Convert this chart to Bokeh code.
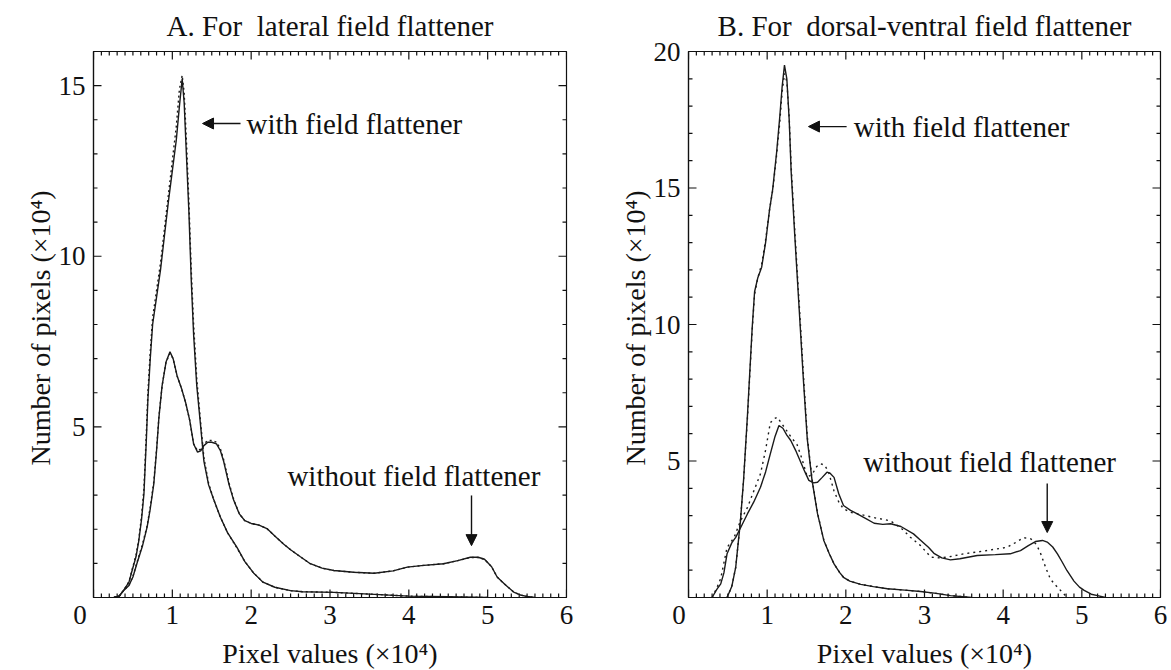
import math
from bokeh.plotting import figure
from bokeh.models import Label, Arrow, NormalHead, Range1d, SingleIntervalTicker
from bokeh.layouts import row
from bokeh.embed import file_html
from bokeh.resources import INLINE

# ---------------- data (x in units of 1e4 pixel value, y in units of 1e4 pixels)
x_ticks = [0, 1, 2, 3, 4, 5, 6]
a_y_ticks = [0, 5, 10, 15]
b_y_ticks = [0, 5, 10, 15, 20]

# Panel A: lateral field flattener
a_with_x = [0.26, 0.33, 0.38, 0.45, 0.49, 0.54, 0.575, 0.61, 0.64, 0.67, 0.69, 0.72,
            0.75, 0.80, 0.85, 0.90, 0.95, 1.00, 1.05, 1.09, 1.125, 1.15, 1.18, 1.21,
            1.24, 1.27, 1.31, 1.36, 1.40, 1.46, 1.52, 1.61, 1.70, 1.82, 1.92, 2.03,
            2.15, 2.30, 2.50, 2.65, 3.05, 3.50, 4.00, 4.50, 5.00]
a_with_y = [0.0, 0.05, 0.2, 0.45, 0.79, 1.2, 1.67, 2.3, 3.04, 4.6, 5.8, 7.0,
            8.0, 8.8, 9.6, 10.6, 11.6, 12.5, 13.4, 14.4, 15.2, 14.5, 12.9, 11.3,
            9.3, 7.7, 6.2, 5.0, 4.0, 3.3, 2.9, 2.35, 1.9, 1.47, 1.05, 0.72,
            0.45, 0.3, 0.2, 0.17, 0.15, 0.1, 0.04, 0.02, 0.0]
a_with_dot_y = [0.0, 0.05, 0.2, 0.47, 0.82, 1.25, 1.72, 2.4, 3.2, 4.8, 6.0, 7.2,
                8.2, 9.0, 9.8, 10.8, 11.8, 12.8, 13.8, 14.9, 15.3, 14.8, 13.3, 11.6,
                9.6, 8.0, 6.4, 5.1, 4.1, 3.35, 2.9, 2.35, 1.9, 1.45, 1.05, 0.72,
                0.45, 0.3, 0.2, 0.17, 0.15, 0.1, 0.04, 0.02, 0.0]

a_without_x = [0.26, 0.33, 0.38, 0.45, 0.50, 0.55, 0.62, 0.68, 0.72, 0.765, 0.80, 0.83,
               0.87, 0.92, 0.97, 1.01, 1.06, 1.12, 1.17, 1.22, 1.27, 1.32, 1.36, 1.40,
               1.45, 1.50, 1.56, 1.61, 1.65, 1.72, 1.78, 1.85, 1.92, 2.00, 2.10, 2.20,
               2.30, 2.41, 2.50, 2.62, 2.75, 2.90, 3.05, 3.30, 3.56, 3.80, 3.98, 4.19,
               4.44, 4.62, 4.78, 4.88, 4.96, 5.05, 5.12, 5.22, 5.33, 5.42, 5.50, 5.60]
a_without_y = [0.0, 0.05, 0.2, 0.35, 0.6, 0.99, 1.5, 2.06, 2.6, 3.33, 4.3, 5.28,
               6.2, 6.9, 7.2, 7.0, 6.5, 6.1, 5.7, 5.2, 4.5, 4.26, 4.3, 4.45,
               4.55, 4.55, 4.5, 4.3, 4.0, 3.3, 2.84, 2.45, 2.25, 2.17, 2.12, 2.02,
               1.8, 1.57, 1.4, 1.2, 0.99, 0.86, 0.79, 0.74, 0.71, 0.78, 0.89, 0.94,
               0.99, 1.08, 1.18, 1.18, 1.12, 0.9, 0.6, 0.38, 0.16, 0.07, 0.03, 0.0]
a_without_dot_y = [0.0, 0.05, 0.2, 0.36, 0.62, 1.02, 1.55, 2.1, 2.65, 3.4, 4.35, 5.3,
                   6.2, 6.9, 7.15, 7.0, 6.5, 6.1, 5.7, 5.2, 4.5, 4.3, 4.35, 4.5,
                   4.6, 4.6, 4.55, 4.35, 4.05, 3.35, 2.86, 2.45, 2.25, 2.17, 2.12, 2.02,
                   1.8, 1.57, 1.4, 1.2, 0.99, 0.86, 0.79, 0.74, 0.71, 0.78, 0.89, 0.94,
                   0.99, 1.08, 1.17, 1.17, 1.12, 0.9, 0.6, 0.38, 0.16, 0.07, 0.03, 0.0]

# Panel B: dorsal-ventral field flattener
b_with_x = [0.49, 0.55, 0.60, 0.66, 0.70, 0.75, 0.78, 0.81, 0.84, 0.88, 0.93, 0.98,
            1.03, 1.07, 1.12, 1.16, 1.19, 1.22, 1.25, 1.28, 1.305, 1.35, 1.40, 1.46,
            1.51, 1.57, 1.64, 1.72, 1.79, 1.85, 1.92, 1.97, 2.05, 2.19, 2.35, 2.53,
            2.75, 2.95, 3.15, 3.33, 3.60]
b_with_y = [0.0, 0.4, 1.1, 2.8, 4.3, 6.7, 8.3, 9.9, 11.2, 11.7, 12.1, 13.0,
            14.2, 14.95, 16.3, 17.6, 18.7, 19.5, 19.0, 17.5, 15.6, 13.3, 10.9, 8.0,
            5.8, 4.3, 3.07, 2.09, 1.6, 1.23, 0.92, 0.74, 0.6, 0.48, 0.4, 0.32,
            0.27, 0.22, 0.15, 0.07, 0.0]
b_with_dot_y = [0.0, 0.4, 1.1, 2.8, 4.3, 6.6, 8.2, 9.8, 11.1, 11.7, 12.2, 13.1,
                14.2, 14.9, 16.2, 17.4, 18.5, 19.2, 18.9, 17.6, 15.8, 13.5, 11.1, 8.2,
                5.9, 4.35, 3.1, 2.1, 1.6, 1.23, 0.92, 0.74, 0.6, 0.48, 0.4, 0.32,
                0.27, 0.22, 0.15, 0.07, 0.0]

b_without_x = [0.30, 0.36, 0.41, 0.45, 0.49, 0.55, 0.60, 0.67, 0.75, 0.83, 0.915, 0.98,
               1.04, 1.10, 1.15, 1.20, 1.25, 1.30, 1.36, 1.42, 1.48, 1.53, 1.59, 1.64,
               1.70, 1.76, 1.80, 1.85, 1.91, 1.97, 2.06, 2.14, 2.25, 2.36, 2.47, 2.57,
               2.70, 2.86, 2.95, 3.05, 3.12, 3.22, 3.33, 3.45, 3.67, 3.90, 4.09, 4.22,
               4.32, 4.41, 4.50, 4.56, 4.63, 4.69, 4.75, 4.81, 4.90, 4.97, 5.03, 5.12,
               5.20, 5.30]
b_without_y = [0.0, 0.3, 0.5, 0.9, 1.6, 2.0, 2.2, 2.6, 3.07, 3.5, 4.04, 4.6,
               5.26, 5.9, 6.3, 6.2, 5.95, 5.75, 5.4, 5.0, 4.6, 4.29, 4.2, 4.22,
               4.4, 4.59, 4.55, 4.4, 3.8, 3.37, 3.19, 3.07, 2.9, 2.72, 2.68, 2.7,
               2.6, 2.33, 2.1, 1.84, 1.62, 1.45, 1.38, 1.42, 1.54, 1.57, 1.6, 1.72,
               1.9, 2.05, 2.09, 2.03, 1.85, 1.6, 1.3, 0.99, 0.6, 0.38, 0.26, 0.12,
               0.07, 0.0]
b_without_dot_x = [0.30, 0.36, 0.41, 0.49, 0.58, 0.66, 0.75, 0.83, 0.915, 0.98, 1.04, 1.09,
                   1.13, 1.19, 1.25, 1.31, 1.38, 1.44, 1.51, 1.57, 1.63, 1.68, 1.73, 1.78,
                   1.85, 1.91, 1.97, 2.06, 2.14, 2.25, 2.40, 2.50, 2.57, 2.70, 2.82, 2.95,
                   3.08, 3.20, 3.33, 3.50, 3.75, 4.05, 4.15, 4.26, 4.35, 4.42, 4.47, 4.54,
                   4.60, 4.65, 4.71, 4.77, 4.82]
b_without_dot_y = [0.0, 0.35, 0.7, 1.83, 2.2, 2.8, 3.3, 3.9, 4.53, 5.4, 6.4, 6.55,
                   6.6, 6.35, 6.1, 5.85, 5.6, 5.1, 4.42, 4.5, 4.8, 4.9, 4.85, 4.6,
                   3.9, 3.5, 3.25, 3.12, 3.07, 3.0, 2.9, 2.85, 2.8, 2.55, 2.21, 1.9,
                   1.48, 1.45, 1.5, 1.6, 1.7, 1.84, 2.0, 2.19, 2.15, 1.95, 1.66, 1.1,
                   0.68, 0.5, 0.32, 0.13, 0.0]

FONT = "Liberation Serif"
INK = "#111111"
CURVE = "#1a1a1a"


def style_axis(ax, ticker):
    ax.ticker = ticker
    ax.axis_line_color = INK
    ax.axis_line_width = 1.2
    ax.major_tick_in = 0
    ax.major_tick_out = 0
    ax.minor_tick_in = 0
    ax.minor_tick_out = 0
    ax.major_label_text_font = FONT
    ax.major_label_text_color = INK
    ax.major_label_text_font_size = "27px"
    ax.axis_label_text_font = FONT
    ax.axis_label_text_font_style = "normal"
    ax.axis_label_text_font_size = "28px"
    ax.axis_label_text_color = INK


def make_panel(title, y_ticks, fw, bl, br, zero_label, curves, annots):
    ymax = y_ticks[-1] + (1 if y_ticks[-1] == 15 else 0)
    p = figure(frame_width=fw, frame_height=546,
               x_range=Range1d(0, x_ticks[-1]), y_range=Range1d(0, ymax),
               output_backend="svg", toolbar_location=None,
               min_border_left=bl, min_border_right=br,
               min_border_top=51, min_border_bottom=73)
    p.title.text = title
    p.title.align = "center"
    p.title.vertical_align = "top"
    p.title.text_font = FONT
    p.title.text_font_style = "normal"
    p.title.text_font_size = "29px"
    p.title.text_color = INK
    p.title.standoff = 16
    p.xgrid.visible = False
    p.ygrid.visible = False
    p.outline_line_color = INK
    p.outline_line_width = 1.2
    p.background_fill_color = "white"
    p.border_fill_color = "white"

    style_axis(p.xaxis[0], SingleIntervalTicker(interval=1))
    style_axis(p.yaxis[0], SingleIntervalTicker(interval=5))
    p.xaxis[0].axis_label = "Pixel values (\u00d710\u2074)"
    p.yaxis[0].axis_label = "Number of pixels  (\u00d710\u2074)"
    p.xaxis[0].major_label_standoff = 2
    p.xaxis[0].axis_label_standoff = 5
    p.yaxis[0].major_label_standoff = 8
    p.yaxis[0].axis_label_standoff = 0
    p.xaxis[0].major_label_overrides = {0: zero_label}
    p.yaxis[0].major_label_overrides = {0: ""}

    # inward tick marks on all four sides (half of each dash is clipped by the frame)
    xmax = x_ticks[-1]
    x_minor = [i / 10 for i in range(0, 10 * xmax + 1) if i % 10]
    y_minor = [j for j in range(0, ymax + 1) if j % 5]
    for xs, size in ((x_ticks, 16), (x_minor, 8)):
        p.scatter(xs + xs, [0] * len(xs) + [ymax] * len(xs), marker="dash",
                  size=size, angle=math.pi / 2, line_color=INK, line_width=1.2)
    for ys, size in ((y_ticks, 16), (y_minor, 8)):
        p.scatter([0] * len(ys) + [xmax] * len(ys), ys + ys, marker="dash",
                  size=size, line_color=INK, line_width=1.2)

    for xs, ys, dash in curves:
        p.line(xs, ys, line_color=CURVE, line_width=1.4, line_dash=dash)

    for (tx, ty, text, ax0, ay0, ax1, ay1) in annots:
        p.add_layout(Label(x=tx, y=ty, text=text, text_align="left",
                           text_baseline="middle", text_font=FONT,
                           text_font_size="29px", text_color=INK))
        p.add_layout(Arrow(x_start=ax0, y_start=ay0, x_end=ax1, y_end=ay1,
                           line_color=INK, line_width=1.4,
                           end=NormalHead(size=11, fill_color=INK, line_color=INK)))
    return p


pA = make_panel(
    "A. For\u00a0 lateral field flattener", a_y_ticks, 473, 93, 22,
    "0\u2007\u2007",
    [(a_with_x, a_with_y, "solid"),
     (a_with_x, a_with_dot_y, "2 3"),
     (a_without_x, a_without_y, "solid"),
     (a_without_x, a_without_dot_y, "2 3")],
    [(1.94, 13.89, "with field flattener", 1.865, 13.89, 1.383, 13.89),
     (2.46, 3.575, "without field flattener", 4.795, 2.99, 4.795, 1.52)])

pB = make_panel(
    "B. For\u00a0 dorsal-ventral field flattener", b_y_ticks, 472, 100, 8,
    "0\u2007\u2009",
    [(b_with_x, b_with_y, "solid"),
     (b_with_x, b_with_dot_y, "2 4"),
     (b_without_x, b_without_y, "solid"),
     (b_without_dot_x, b_without_dot_y, "2 4")],
    [(2.10, 17.25, "with field flattener", 2.01, 17.25, 1.525, 17.25),
     (2.22, 4.95, "without field flattener", 4.56, 4.18, 4.56, 2.38)])

layout = row(pA, pB)
open("out.html", "w").write(file_html(layout, INLINE))
